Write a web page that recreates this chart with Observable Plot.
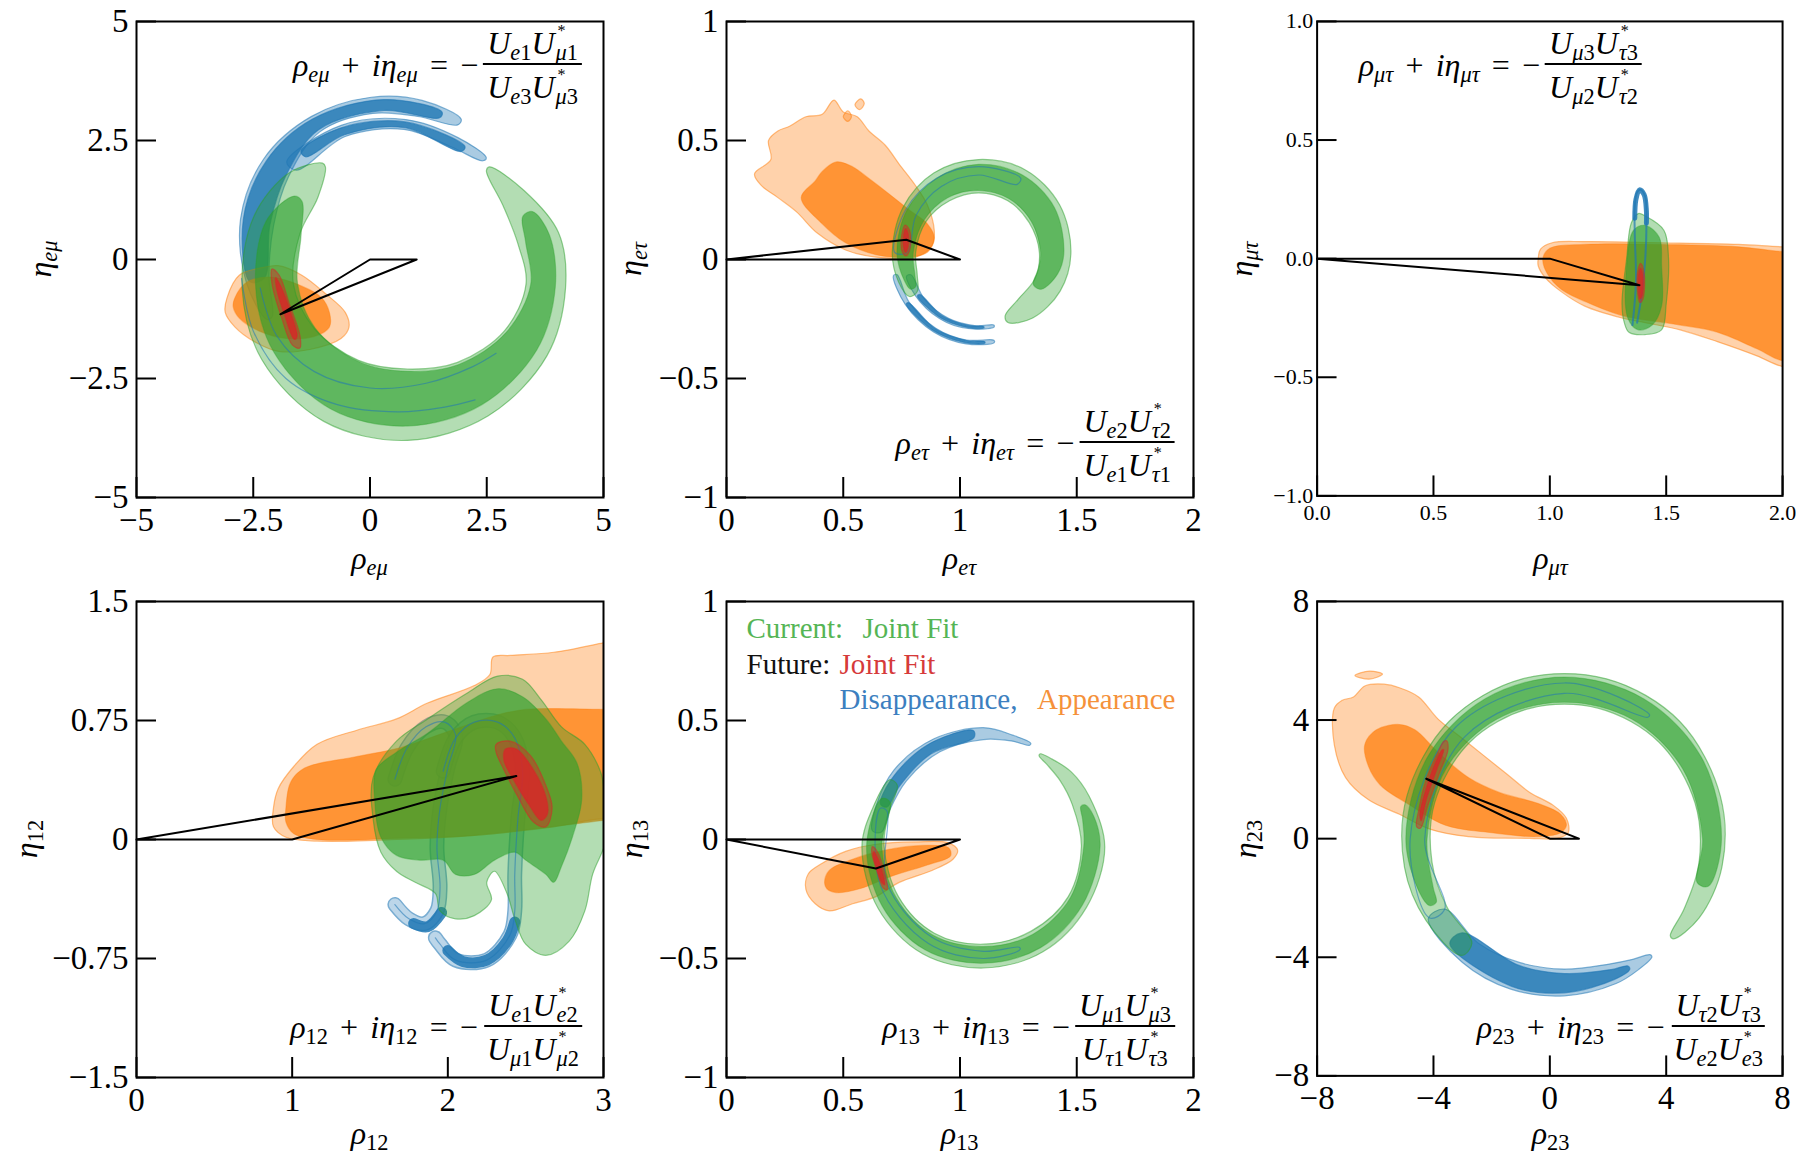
<!DOCTYPE html>
<html>
<head>
<meta charset="utf-8">
<script src="https://cdn.jsdelivr.net/npm/d3@7"></script>
<script src="https://cdn.jsdelivr.net/npm/@observablehq/plot@0.6"></script>
<style>
  html,body{margin:0;padding:0;background:#fff;}
  #fig{position:relative;width:1806px;height:1158px;overflow:hidden;background:#fff;font-family:"Liberation Serif","DejaVu Serif",serif;color:#000;}
  .panel{position:absolute;}
  .panel svg{overflow:visible;}
  .lab{position:absolute;font-size:32px;line-height:1;white-space:nowrap;transform:translate(-50%,-50%);}
  .lab.y{transform:translate(-50%,-50%) rotate(-90deg);}
  .eq{position:absolute;display:flex;align-items:center;font-size:32px;line-height:1;white-space:nowrap;transform:translate(-100%,-50%);}
  .frac{display:inline-flex;flex-direction:column;align-items:center;margin-left:5px;}
  .num{border-bottom:2px solid #000;padding:0 4px 4px;line-height:1;}
  .den{padding:6px 4px 0;line-height:1;}
  sub{font-size:0.7em;vertical-align:-0.26em;line-height:0;}
  .sb2{position:relative;margin-left:1px;}
  .st{position:absolute;left:2px;top:-17px;font-size:16px;font-style:normal;line-height:1;}
  .op{margin:0 0.38em;}
</style>
</head>
<body>
<div id="fig"></div>
<script>
// ---------------- DATA ----------------
// tick values / labels
const emuTicks = [-5, -2.5, 0, 2.5, 5];
const emuTickLabels = ["−5", "−2.5", "0", "2.5", "5"];
const unitXTicks = [0, 0.5, 1, 1.5, 2];
const unitXLabels = ["0", "0.5", "1", "1.5", "2"];
const unitYTicks = [-1, -0.5, 0, 0.5, 1];
const unitYLabels = ["−1", "−0.5", "0", "0.5", "1"];
const mutauXLabels = ["0.0", "0.5", "1.0", "1.5", "2.0"];
const mutauYLabels = ["−1.0", "−0.5", "0.0", "0.5", "1.0"];
const p12XTicks = [0, 1, 2, 3];
const p12XLabels = ["0", "1", "2", "3"];
const p12YTicks = [-1.5, -0.75, 0, 0.75, 1.5];
const p12YLabels = ["−1.5", "−0.75", "0", "0.75", "1.5"];
const p23Ticks = [-8, -4, 0, 4, 8];
const p23Labels = ["−8", "−4", "0", "4", "8"];

// ---- panel rho_emu ----  rings: [angle deg, r inner, r outer]
const emuGreenCenter = [0.8, -0.3];
const emuGreenL = [[128,2.85,2.95],[140,2.5,3.3],[160,2.45,3.5],[185,2.45,3.55],[210,2.3,3.6],[240,2.1,3.58],[270,2.0,3.5],[300,2.15,3.45],[330,2.4,3.45],[355,2.55,3.4],[375,2.45,3.35],[395,2.5,3.05],[412,2.75,2.85]];
const emuGreenD = [[146,2.72,2.92],[160,2.42,3.22],[185,2.36,3.26],[210,2.28,3.3],[240,2.12,3.28],[270,2.05,3.2],[300,2.2,3.18],[330,2.45,3.2],[355,2.65,3.18],[375,2.62,3.15],[386,2.75,2.98]];
const emuBlueCenter = [0.3, 0.3];
const emuBlueAL = [[58,2.98,3.12],[75,2.8,3.15],[95,2.78,3.12],[120,2.75,3.12],[145,2.5,3.15],[170,2.4,3.12],[195,2.55,3.05],[212,2.82,2.95]];
const emuBlueAD = [[66,2.93,3.06],[90,2.83,3.06],[120,2.8,3.06],[145,2.56,3.08],[170,2.48,3.06],[195,2.65,2.97]];
const emuBlueBL = [[40,2.76,2.86],[55,2.52,2.76],[80,2.47,2.68],[110,2.43,2.68],[140,2.45,2.72]];
const emuBlueBD = [[50,2.57,2.7],[80,2.51,2.63],[110,2.47,2.63],[132,2.5,2.66]];
const emuBlueEdge1 = [[-2.75,-0.4],[-2.5,-1.5],[-1.8,-2.5],[-0.7,-3.05],[0.6,-3.2],[1.6,-3.1],[2.25,-2.95]];
const emuBlueEdge2 = [[-2.35,-0.6],[-2.0,-1.6],[-1.2,-2.35],[0.0,-2.7],[1.2,-2.6],[2.2,-2.25],[2.7,-1.97]];
const emuOrangeL = [[-3.06,-0.8],[-2.8,-0.33],[-2.3,-0.17],[-1.96,-0.13],[-1.46,-0.33],[-0.95,-0.72],[-0.53,-1.11],[-0.45,-1.42],[-0.62,-1.66],[-1.29,-1.89],[-1.96,-1.93],[-2.47,-1.73],[-2.89,-1.42],[-3.1,-1.11]];
const emuOrangeD = [[-2.89,-0.8],[-2.64,-0.48],[-2.13,-0.37],[-1.46,-0.56],[-1.04,-0.8],[-0.87,-1.11],[-0.87,-1.42],[-1.2,-1.62],[-1.79,-1.66],[-2.38,-1.5],[-2.8,-1.23],[-2.93,-0.99]];
const emuRedL = [[-2.1,-0.2],[-1.95,-0.32],[-1.72,-0.95],[-1.5,-1.6],[-1.5,-1.86],[-1.66,-1.8],[-1.9,-1.2],[-2.1,-0.5]];
const emuRedD = [[-2.02,-0.38],[-1.9,-0.58],[-1.7,-1.1],[-1.56,-1.62],[-1.62,-1.68],[-1.82,-1.2],[-2.0,-0.62]];
const emuTriangle = [[0,0],[1,0],[-1.92,-1.15]];

// ---- panel rho_etau ----
const etauCenter = [1.08, 0.03];
const etauGreenL = [[-67,0.29,0.32],[-50,0.26,0.36],[-25,0.265,0.385],[0,0.26,0.395],[30,0.25,0.4],[60,0.25,0.4],[90,0.25,0.39],[120,0.25,0.385],[150,0.26,0.375],[180,0.27,0.37],[200,0.28,0.365],[212,0.31,0.35]];
const etauGreenD = [[-30,0.27,0.31],[-15,0.265,0.35],[0,0.265,0.365],[30,0.26,0.375],[60,0.26,0.375],[90,0.26,0.37],[120,0.265,0.36],[150,0.27,0.355],[180,0.28,0.35],[200,0.29,0.34],[208,0.305,0.33]];
const etauBlueOL = [[195,0.362,0.378],[215,0.364,0.383],[240,0.368,0.386],[262,0.372,0.388],[280,0.375,0.385]];
const etauBlueOD = [[215,0.368,0.379],[240,0.371,0.382],[262,0.374,0.384],[274,0.376,0.382]];
const etauBlueIL = [[198,0.305,0.325],[220,0.304,0.326],[245,0.306,0.325],[268,0.309,0.323],[282,0.312,0.32]];
const etauBlueID = [[215,0.308,0.32],[240,0.309,0.32],[262,0.311,0.319],[274,0.312,0.318]];
const etauBlueEdge = [[60,0.33,0.36],[90,0.325,0.36],[120,0.32,0.36],[150,0.31,0.36],[180,0.305,0.36]];
const etauOrangeL = [[0.12,0.36],[0.19,0.42],[0.18,0.5],[0.22,0.54],[0.27,0.56],[0.34,0.6],[0.41,0.61],[0.46,0.67],[0.5,0.62],[0.56,0.6],[0.61,0.54],[0.68,0.48],[0.74,0.4],[0.81,0.31],[0.86,0.23],[0.89,0.12],[0.88,0.06],[0.81,0.01],[0.64,0.01],[0.51,0.04],[0.39,0.11],[0.3,0.2],[0.22,0.26],[0.15,0.31]];
const etauOrangeIsland1 = [[0.5,0.6],[0.52,0.625],[0.535,0.6],[0.52,0.58]];
const etauOrangeIsland2 = [[0.55,0.65],[0.575,0.675],[0.59,0.655],[0.57,0.63]];
const etauOrangeD = [[0.32,0.26],[0.38,0.33],[0.41,0.37],[0.47,0.41],[0.54,0.39],[0.61,0.34],[0.69,0.28],[0.78,0.21],[0.86,0.15],[0.89,0.09],[0.86,0.03],[0.78,0.01],[0.64,0.02],[0.51,0.07],[0.41,0.15]];
const etauRedL = [[0.765,0.145],[0.785,0.12],[0.785,0.04],[0.768,0.015],[0.75,0.04],[0.752,0.11]];
const etauRedD = [[0.767,0.13],[0.778,0.11],[0.777,0.05],[0.767,0.03],[0.758,0.05],[0.758,0.1]];
const etauTriangle = [[0,0],[1,0],[0.77,0.083]];

// ---- panel rho_mutau ----
const mutauOrangeL = [[0.95,0.0],[0.96,0.04],[1.01,0.067],[1.15,0.072],[1.48,0.067],[1.81,0.06],[2.0,0.05],[2.1,0.05],[2.1,-0.46],[2.0,-0.455],[1.89,-0.41],[1.72,-0.35],[1.56,-0.3],[1.41,-0.27],[1.31,-0.25],[1.15,-0.2],[1.05,-0.14],[0.98,-0.08],[0.95,-0.03]];
const mutauOrangeD = [[0.97,0.0],[1.0,0.044],[1.15,0.06],[1.48,0.06],[1.81,0.05],[2.0,0.03],[2.1,0.03],[2.1,-0.42],[2.0,-0.43],[1.89,-0.38],[1.72,-0.31],[1.56,-0.28],[1.31,-0.24],[1.15,-0.18],[1.05,-0.13],[0.99,-0.065]];
const mutauGreenL = [[1.32,-0.27],[1.31,-0.19],[1.33,0.0],[1.35,0.15],[1.38,0.19],[1.41,0.18],[1.49,0.12],[1.51,0.0],[1.5,-0.19],[1.48,-0.3],[1.41,-0.32],[1.34,-0.31]];
const mutauGreenD = [[1.335,-0.25],[1.33,-0.03],[1.36,0.12],[1.41,0.14],[1.47,0.09],[1.48,-0.03],[1.48,-0.2],[1.44,-0.28],[1.38,-0.3]];
const mutauBlueLoop = [[1.355,-0.28],[1.37,-0.1],[1.365,0.1],[1.365,0.22],[1.375,0.28],[1.39,0.29],[1.41,0.26],[1.415,0.15],[1.41,0.0],[1.395,-0.15],[1.375,-0.27]];
const mutauBlueTop = [[1.365,0.17],[1.37,0.25],[1.385,0.29],[1.405,0.27],[1.415,0.2],[1.415,0.15]];
const mutauRedL = [[1.39,-0.02],[1.405,-0.06],[1.4,-0.17],[1.387,-0.185],[1.375,-0.12],[1.378,-0.05]];
const mutauRedD = [[1.39,-0.04],[1.4,-0.07],[1.396,-0.16],[1.387,-0.17],[1.38,-0.12],[1.382,-0.06]];
const mutauTriangle = [[0,0],[1,0],[1.385,-0.112]];

// ---- panel rho_12 ----
const p12OrangeL = [[0.88,0.2],[0.91,0.32],[1.01,0.46],[1.16,0.6],[1.42,0.69],[1.67,0.76],[1.87,0.86],[2.17,0.97],[2.27,1.04],[2.29,1.15],[2.4,1.16],[2.68,1.18],[3.0,1.24],[3.1,1.26],[3.1,0.1],[3.0,0.13],[2.68,0.08],[2.17,0.026],[1.67,0.0],[1.16,-0.01],[0.96,0.014],[0.88,0.08]];
const p12OrangeD = [[0.96,0.2],[0.99,0.36],[1.08,0.45],[1.4,0.52],[1.7,0.58],[2.0,0.68],[2.3,0.78],[2.5,0.82],[3.0,0.82],[3.1,0.82],[3.1,0.13],[3.0,0.12],[2.17,0.026],[1.67,0.007],[1.16,0.0],[1.01,0.037],[0.96,0.11]];
const p12GreenL = [[1.52,0.39],[1.67,0.62],[1.87,0.76],[2.12,0.92],[2.32,1.03],[2.48,1.01],[2.6,0.88],[2.73,0.71],[2.88,0.6],[2.98,0.43],[3.0,0.34],[3.02,0.01],[2.93,-0.22],[2.88,-0.45],[2.78,-0.64],[2.63,-0.73],[2.5,-0.66],[2.43,-0.5],[2.38,-0.34],[2.3,-0.2],[2.25,-0.27],[2.28,-0.38],[2.17,-0.48],[2.05,-0.5],[1.95,-0.45],[1.92,-0.34],[1.79,-0.27],[1.67,-0.2],[1.57,-0.08],[1.52,0.13]];
const p12GreenD = [[1.54,0.44],[1.67,0.55],[1.87,0.67],[2.12,0.86],[2.32,0.95],[2.48,0.9],[2.63,0.76],[2.73,0.62],[2.83,0.48],[2.86,0.25],[2.8,0.014],[2.73,-0.17],[2.68,-0.27],[2.63,-0.22],[2.5,-0.13],[2.43,-0.08],[2.3,-0.13],[2.17,-0.22],[2.05,-0.22],[1.97,-0.13],[1.82,-0.13],[1.67,-0.1],[1.57,0.014],[1.53,0.25]];
const p12BlueA = [[1.66,0.38],[1.74,0.58],[1.86,0.71],[1.98,0.74],[2.05,0.66],[2.0,0.45],[1.95,0.2],[1.93,-0.05],[1.95,-0.3],[1.93,-0.45],[1.85,-0.53],[1.75,-0.5],[1.66,-0.41]];
const p12BlueB = [[1.97,0.43],[2.05,0.64],[2.17,0.74],[2.32,0.74],[2.43,0.64],[2.48,0.43],[2.45,0.13],[2.43,-0.22],[2.43,-0.45],[2.4,-0.6],[2.25,-0.76],[2.05,-0.76],[1.95,-0.66],[1.92,-0.62]];
const p12HookA = [[1.96,-0.46],[1.87,-0.55],[1.78,-0.53]];
const p12HookB = [[2.43,-0.52],[2.38,-0.64],[2.25,-0.76],[2.1,-0.77],[2.0,-0.7]];
const p12RedL = [[2.31,0.6],[2.4,0.62],[2.53,0.53],[2.63,0.34],[2.67,0.2],[2.63,0.08],[2.55,0.11],[2.45,0.27],[2.35,0.46],[2.31,0.55]];
const p12RedD = [[2.37,0.57],[2.44,0.57],[2.55,0.44],[2.63,0.27],[2.64,0.16],[2.6,0.12],[2.52,0.22],[2.42,0.38],[2.36,0.5]];
const p12Triangle = [[0,0],[1,0],[2.44,0.4]];

// ---- panel rho_13 ----
const p13Center = [1.1, -0.03];
const p13GreenL = [[145,0.45,0.49],[160,0.43,0.5],[180,0.425,0.52],[210,0.42,0.52],[240,0.42,0.52],[270,0.41,0.51],[300,0.41,0.51],[330,0.42,0.51],[360,0.42,0.52],[385,0.42,0.5],[400,0.43,0.49],[412,0.44,0.47],[418,0.45,0.46]];
const p13GreenD = [[155,0.44,0.48],[180,0.435,0.5],[210,0.43,0.5],[240,0.43,0.5],[270,0.42,0.49],[300,0.425,0.49],[330,0.43,0.49],[360,0.43,0.5],[375,0.44,0.49],[382,0.45,0.47]];
const p13BlueL = [[65,0.47,0.48],[75,0.46,0.485],[90,0.45,0.5],[115,0.44,0.5],[140,0.43,0.5],[160,0.43,0.49],[172,0.44,0.48]];
const p13BlueD = [[95,0.46,0.49],[120,0.45,0.49],[145,0.44,0.485],[158,0.445,0.475]];
const p13BlueEdge = [[160,0.44,0.47],[200,0.44,0.47],[240,0.44,0.47],[270,0.44,0.47],[290,0.45,0.46]];
const p13OrangeL = [[0.34,-0.21],[0.35,-0.145],[0.41,-0.1],[0.51,-0.05],[0.64,-0.02],[0.81,-0.01],[0.95,-0.014],[0.99,-0.045],[0.97,-0.083],[0.88,-0.13],[0.74,-0.18],[0.64,-0.24],[0.54,-0.27],[0.44,-0.3],[0.38,-0.27]];
const p13OrangeD = [[0.42,-0.18],[0.44,-0.13],[0.54,-0.083],[0.68,-0.045],[0.84,-0.025],[0.95,-0.034],[0.96,-0.068],[0.86,-0.107],[0.71,-0.153],[0.57,-0.207],[0.47,-0.223],[0.43,-0.207]];
const p13RedL = [[0.625,-0.03],[0.645,-0.05],[0.68,-0.15],[0.688,-0.21],[0.672,-0.205],[0.64,-0.12],[0.622,-0.055]];
const p13RedD = [[0.63,-0.05],[0.645,-0.07],[0.672,-0.15],[0.678,-0.19],[0.668,-0.185],[0.642,-0.12],[0.628,-0.065]];
const p13Triangle = [[0,0],[1,0],[0.64,-0.122]];

// ---- panel rho_23 ----
const p23Center = [0.5, 0];
const p23GreenL = [[-42,4.9,5.05],[-30,4.75,5.35],[-10,4.7,5.5],[15,4.65,5.55],[45,4.6,5.6],[75,4.55,5.58],[105,4.55,5.58],[135,4.6,5.6],[165,4.62,5.6],[190,4.62,5.58],[210,4.65,5.5],[228,4.75,5.3]];
const p23GreenD = [[-18,4.8,5.2],[0,4.75,5.4],[30,4.7,5.45],[60,4.65,5.45],[90,4.6,5.45],[120,4.65,5.45],[150,4.7,5.45],[180,4.72,5.45],[200,4.8,5.3],[206,4.9,5.15]];
const p23BlueL = [[210,4.75,5.4],[230,4.6,5.45],[250,4.45,5.4],[270,4.4,5.3],[290,4.5,5.2],[300,4.7,5.1],[307,4.9,5.0]];
const p23BlueD = [[222,4.75,5.3],[250,4.55,5.3],[270,4.55,5.2],[290,4.7,5.05],[297,4.82,4.95]];
const p23BlueEdge = [[55,5.0,5.1],[90,4.9,5.25],[135,4.85,5.3],[180,4.8,5.3],[210,4.75,5.35]];
const p23OrangeL = [[-7.41,4.4],[-7.15,4.66],[-6.75,4.78],[-6.36,5.15],[-5.7,5.21],[-5.17,5.09],[-4.51,4.78],[-3.85,4.04],[-3.06,3.42],[-2.27,2.8],[-1.48,2.18],[-0.69,1.56],[0.11,1.13],[0.57,0.69],[0.63,0.2],[0.24,0.01],[-0.69,0.01],[-2.8,0.07],[-4.12,0.32],[-5.17,0.82],[-6.23,1.31],[-7.02,2.06],[-7.41,3.17]];
const p23OrangeIsland = [[-6.7,5.5],[-6.2,5.65],[-5.75,5.55],[-6.2,5.38]];
const p23OrangeD = [[-6.36,3.17],[-5.96,3.67],[-5.17,3.85],[-4.64,3.67],[-3.85,2.92],[-2.8,2.06],[-1.74,1.56],[-0.42,1.19],[0.37,0.82],[0.57,0.45],[0.37,0.2],[-0.42,0.07],[-2.0,0.2],[-3.59,0.45],[-4.91,1.19],[-5.83,1.81],[-6.23,2.43]];
const p23RedL = [[-3.55,3.3],[-3.5,3.0],[-3.8,2.2],[-4.2,1.1],[-4.45,0.35],[-4.58,0.4],[-4.5,1.0],[-4.25,2.0],[-3.85,2.9],[-3.65,3.28]];
const p23RedD = [[-3.65,3.0],[-3.9,2.3],[-4.25,1.3],[-4.42,0.6],[-4.47,0.8],[-4.25,1.7],[-3.92,2.6],[-3.7,3.0]];
const p23Triangle = [[0,0],[1,0],[-4.25,2.02]];

// text content
const panelSubs = ["eμ", "eτ", "μτ", "12", "13", "23"];
const eqNum = [["e1","μ1"],["e2","τ2"],["μ3","τ3"],["e1","e2"],["μ1","μ3"],["τ2","τ3"]];
const eqDen = [["e3","μ3"],["e1","τ1"],["μ2","τ2"],["μ1","μ2"],["τ1","τ3"],["e2","e3"]];
const legendLines = [
  [["Current:", "green"], ["Joint Fit", "green"]],
  [["Future:", "black"], ["Joint Fit", "red"]],
  [["Disappearance,", "blue"], ["Appearance", "orange"]]
];

// ---------------- STYLE / LAYOUT ----------------
const FONT = '"Liberation Serif", "DejaVu Serif", serif';
const W = 467, H = 476, ML = 120, MR = 24, MT = 20, MB = 60;
const STY = {
  blueL:{c:"#1f77b4",fo:0.38,so:0.55}, blueD:{c:"#1f77b4",fo:0.8,so:0.6},
  orangeL:{c:"#ff7f0e",fo:0.35,so:0.5}, orangeD:{c:"#ff7f0e",fo:0.75,so:0.4},
  greenL:{c:"#2ca02c",fo:0.36,so:0.5}, greenD:{c:"#2ca02c",fo:0.62,so:0.35},
  redL:{c:"#d62728",fo:0.45,so:0.5}, redD:{c:"#d62728",fo:0.84,so:0.5}
};
const TEXTCOL = {green:"#55b555", black:"#111", red:"#d63a3a", blue:"#3c7fc0", orange:"#f5913a"};
const rad = a => a * Math.PI / 180;
function ringPts(center, st) {
  const [cx, cy] = center;
  const outer = st.map(([a, , ro]) => [cx + ro * Math.cos(rad(a)), cy + ro * Math.sin(rad(a))]);
  const inner = st.slice().reverse().map(([a, ri]) => [cx + ri * Math.cos(rad(a)), cy + ri * Math.sin(rad(a))]);
  return outer.concat(inner);
}
const X = d => d[0], Y = d => d[1];
function fillMark(pts, layer) {
  const s = STY[layer];
  return Plot.line(pts, {x: X, y: Y, curve: "catmull-rom-closed", fill: s.c, fillOpacity: s.fo, stroke: s.c, strokeOpacity: s.so, strokeWidth: 1.2, clip: true});
}
function edgeMark(pts, closed) {
  return Plot.line(pts, {x: X, y: Y, curve: closed ? "catmull-rom-closed" : "catmull-rom", stroke: "#1f77b4", strokeOpacity: 0.55, strokeWidth: 1.2, clip: true});
}
function bandMarks(pts) {
  return [
    Plot.line(pts, {x: X, y: Y, curve: "catmull-rom", stroke: "#1f77b4", strokeOpacity: 0.6, strokeWidth: 15, strokeLinecap: "round", strokeLinejoin: "round", clip: true}),
    Plot.line(pts, {x: X, y: Y, curve: "catmull-rom", stroke: "#ffffff", strokeOpacity: 0.5, strokeWidth: 12, strokeLinecap: "round", strokeLinejoin: "round", clip: true})
  ];
}
function hookMark(pts) {
  return Plot.line(pts, {x: X, y: Y, curve: "catmull-rom", stroke: "#1f77b4", strokeOpacity: 0.85, strokeWidth: 11, strokeLinecap: "round", clip: true});
}

const panels = [
  {left:136, top:21, xDomain:[-5,5], yDomain:[-5,5], xTicks:emuTicks, xLabels:emuTickLabels, yTicks:emuTicks, yLabels:emuTickLabels, fs:33, padY:8, padX:10,
   under:[
     fillMark(ringPts(emuBlueCenter, emuBlueAL), "blueL"), fillMark(ringPts(emuBlueCenter, emuBlueBL), "blueL"),
     fillMark(ringPts(emuBlueCenter, emuBlueAD), "blueD"), fillMark(ringPts(emuBlueCenter, emuBlueBD), "blueD"),
     fillMark(emuOrangeL, "orangeL"), fillMark(emuOrangeD, "orangeD"),
     fillMark(ringPts(emuGreenCenter, emuGreenL), "greenL"), fillMark(ringPts(emuGreenCenter, emuGreenD), "greenD"),
     edgeMark(emuBlueEdge1, false), edgeMark(emuBlueEdge2, false),
     fillMark(emuRedL, "redL"), fillMark(emuRedD, "redD")],
   tri: emuTriangle},
  {left:726, top:21, xDomain:[0,2], yDomain:[-1,1], xTicks:unitXTicks, xLabels:unitXLabels, yTicks:unitYTicks, yLabels:unitYLabels, fs:33, padY:8, padX:10,
   under:[
     fillMark(ringPts(etauCenter, etauBlueOL), "blueL"), fillMark(ringPts(etauCenter, etauBlueIL), "blueL"),
     fillMark(ringPts(etauCenter, etauBlueOD), "blueD"), fillMark(ringPts(etauCenter, etauBlueID), "blueD"),
     fillMark(etauOrangeL, "orangeL"), fillMark(etauOrangeIsland1, "orangeL"), fillMark(etauOrangeIsland2, "orangeL"), fillMark(etauOrangeD, "orangeD"),
     fillMark(ringPts(etauCenter, etauGreenL), "greenL"), fillMark(ringPts(etauCenter, etauGreenD), "greenD"),
     edgeMark(ringPts(etauCenter, etauBlueEdge), true),
     fillMark(etauRedL, "redL"), fillMark(etauRedD, "redD")],
   tri: etauTriangle},
  {left:1317, top:21, xDomain:[0,2], yDomain:[-1,1], xTicks:unitXTicks, xLabels:mutauXLabels, yTicks:unitYTicks, yLabels:mutauYLabels, fs:22, padY:4, padX:9,
   under:[
     fillMark(mutauOrangeL, "orangeL"), fillMark(mutauOrangeD, "orangeD"),
     fillMark(mutauGreenL, "greenL"), fillMark(mutauGreenD, "greenD"),
     Plot.line(mutauBlueLoop, {x:X, y:Y, curve:"catmull-rom", stroke:"#1f77b4", strokeOpacity:0.7, strokeWidth:2, clip:true}),
     Plot.line(mutauBlueTop, {x:X, y:Y, curve:"catmull-rom", stroke:"#1f77b4", strokeOpacity:0.85, strokeWidth:5, strokeLinecap:"round", clip:true}),
     fillMark(mutauRedL, "redL"), fillMark(mutauRedD, "redD")],
   tri: mutauTriangle},
  {left:136, top:601, xDomain:[0,3], yDomain:[-1.5,1.5], xTicks:p12XTicks, xLabels:p12XLabels, yTicks:p12YTicks, yLabels:p12YLabels, fs:33, padY:8, padX:10,
   under:[
     ...bandMarks(p12BlueA), ...bandMarks(p12BlueB), hookMark(p12HookA), hookMark(p12HookB),
     fillMark(p12OrangeL, "orangeL"), fillMark(p12OrangeD, "orangeD"),
     fillMark(p12GreenL, "greenL"), fillMark(p12GreenD, "greenD"),
     edgeMark(p12BlueA, false), edgeMark(p12BlueB, false),
     fillMark(p12RedL, "redL"), fillMark(p12RedD, "redD")],
   tri: p12Triangle},
  {left:726, top:601, xDomain:[0,2], yDomain:[-1,1], xTicks:unitXTicks, xLabels:unitXLabels, yTicks:unitYTicks, yLabels:unitYLabels, fs:33, padY:8, padX:10,
   under:[
     fillMark(ringPts(p13Center, p13BlueL), "blueL"), fillMark(ringPts(p13Center, p13BlueD), "blueD"),
     fillMark(p13OrangeL, "orangeL"), fillMark(p13OrangeD, "orangeD"),
     fillMark(ringPts(p13Center, p13GreenL), "greenL"), fillMark(ringPts(p13Center, p13GreenD), "greenD"),
     edgeMark(ringPts(p13Center, p13BlueEdge), true),
     fillMark(p13RedL, "redL"), fillMark(p13RedD, "redD")],
   tri: p13Triangle, legend: true},
  {left:1317, top:601, xDomain:[-8,8], yDomain:[-8,8], xTicks:p23Ticks, xLabels:p23Labels, yTicks:p23Ticks, yLabels:p23Labels, fs:33, padY:8, padX:10,
   under:[
     fillMark(ringPts(p23Center, p23BlueL), "blueL"), fillMark(ringPts(p23Center, p23BlueD), "blueD"),
     fillMark(p23OrangeL, "orangeL"), fillMark(p23OrangeIsland, "orangeL"), fillMark(p23OrangeD, "orangeD"),
     fillMark(ringPts(p23Center, p23GreenL), "greenL"), fillMark(ringPts(p23Center, p23GreenD), "greenD"),
     edgeMark(ringPts(p23Center, p23BlueEdge), true),
     fillMark(p23RedL, "redL"), fillMark(p23RedD, "redD")],
   tri: p23Triangle}
];

// label layout
const xLabY = [558, 558, 558, 1133, 1133, 1133];
const yLabX = [40, 630, 1241, 26, 631, 1245];
const eqRight = [582, 1175, 1642, 583, 1175, 1767];
const eqBar = [65, 443, 65, 1027, 1027, 1027];
const legendPos = [[[20,36],[136,36]], [[20,72],[113,72]], [[113,107],[449,107,"end"]]];

const fig = document.getElementById("fig");
const fmt = s => s.replace(/[A-Za-zμτ]/g, m => `<i>${m}</i>`);

panels.forEach((p, k) => {
  const xl = new Map(p.xTicks.map((t, i) => [t, p.xLabels[i]]));
  const yl = new Map(p.yTicks.map((t, i) => [t, p.yLabels[i]]));
  const marks = [...p.under];
  marks.push(Plot.line(p.tri, {x: X, y: Y, curve: "linear-closed", stroke: "#000", strokeWidth: 2}));
  marks.push(Plot.tickY(p.yTicks, {y: d => d, insetRight: W - 20, stroke: "#000", strokeWidth: 2}));
  marks.push(Plot.tickX(p.xTicks, {x: d => d, insetTop: H - 20, stroke: "#000", strokeWidth: 2}));
  marks.push(Plot.frame({stroke: "#000", strokeWidth: 2}));
  marks.push(Plot.axisY(p.yTicks, {tickSize: 0, tickPadding: p.padY, tickFormat: d => yl.get(d), fontSize: p.fs, fontFamily: FONT, fontVariant: "normal", label: null}));
  marks.push(Plot.axisX(p.xTicks, {tickSize: 0, tickPadding: p.padX, tickFormat: d => xl.get(d), fontSize: p.fs, fontFamily: FONT, fontVariant: "normal", label: null}));
  if (p.legend) {
    legendLines.forEach((line, li) => line.forEach(([txt, col], j) => {
      const pos = legendPos[li][j];
      marks.push(Plot.text([txt], {text: d => d, frameAnchor: "top-left", dx: pos[0], dy: pos[1], textAnchor: pos[2] || "start", lineAnchor: "bottom", fontSize: 29, fontFamily: FONT, fill: TEXTCOL[col]}));
    }));
  }
  const svg = Plot.plot({
    width: W + ML + MR, height: H + MT + MB,
    marginLeft: ML, marginRight: MR, marginTop: MT, marginBottom: MB,
    x: {domain: p.xDomain, axis: null}, y: {domain: p.yDomain, axis: null},
    style: {fontFamily: FONT, fontSize: "31px", background: "transparent", color: "#000", overflow: "visible"},
    marks
  });
  const div = document.createElement("div");
  div.className = "panel";
  div.style.left = (p.left - ML) + "px";
  div.style.top = (p.top - MT) + "px";
  div.appendChild(svg);
  fig.appendChild(div);

  const s = panelSubs[k];
  const xlab = document.createElement("div");
  xlab.className = "lab";
  xlab.style.left = (p.left + W / 2) + "px";
  xlab.style.top = xLabY[k] + "px";
  xlab.innerHTML = `<i>ρ</i><sub>${fmt(s)}</sub>`;
  fig.appendChild(xlab);
  const ylab = document.createElement("div");
  ylab.className = "lab y";
  ylab.style.left = yLabX[k] + "px";
  ylab.style.top = (p.top + H / 2) + "px";
  ylab.innerHTML = `<i>η</i><sub>${fmt(s)}</sub>`;
  fig.appendChild(ylab);

  const uu = ([a, b]) => `<i>U</i><sub>${fmt(a)}</sub><i>U</i><sub class="sb2">${fmt(b)}<span class="st">*</span></sub>`;
  const eq = document.createElement("div");
  eq.className = "eq";
  eq.style.left = eqRight[k] + "px";
  eq.style.top = eqBar[k] + "px";
  eq.innerHTML = `<span><i>ρ</i><sub>${fmt(s)}</sub><span class="op">+</span><i>iη</i><sub>${fmt(s)}</sub><span class="op">=</span>−</span><span class="frac"><span class="num">${uu(eqNum[k])}</span><span class="den">${uu(eqDen[k])}</span></span>`;
  fig.appendChild(eq);
});
</script>
</body>
</html>
